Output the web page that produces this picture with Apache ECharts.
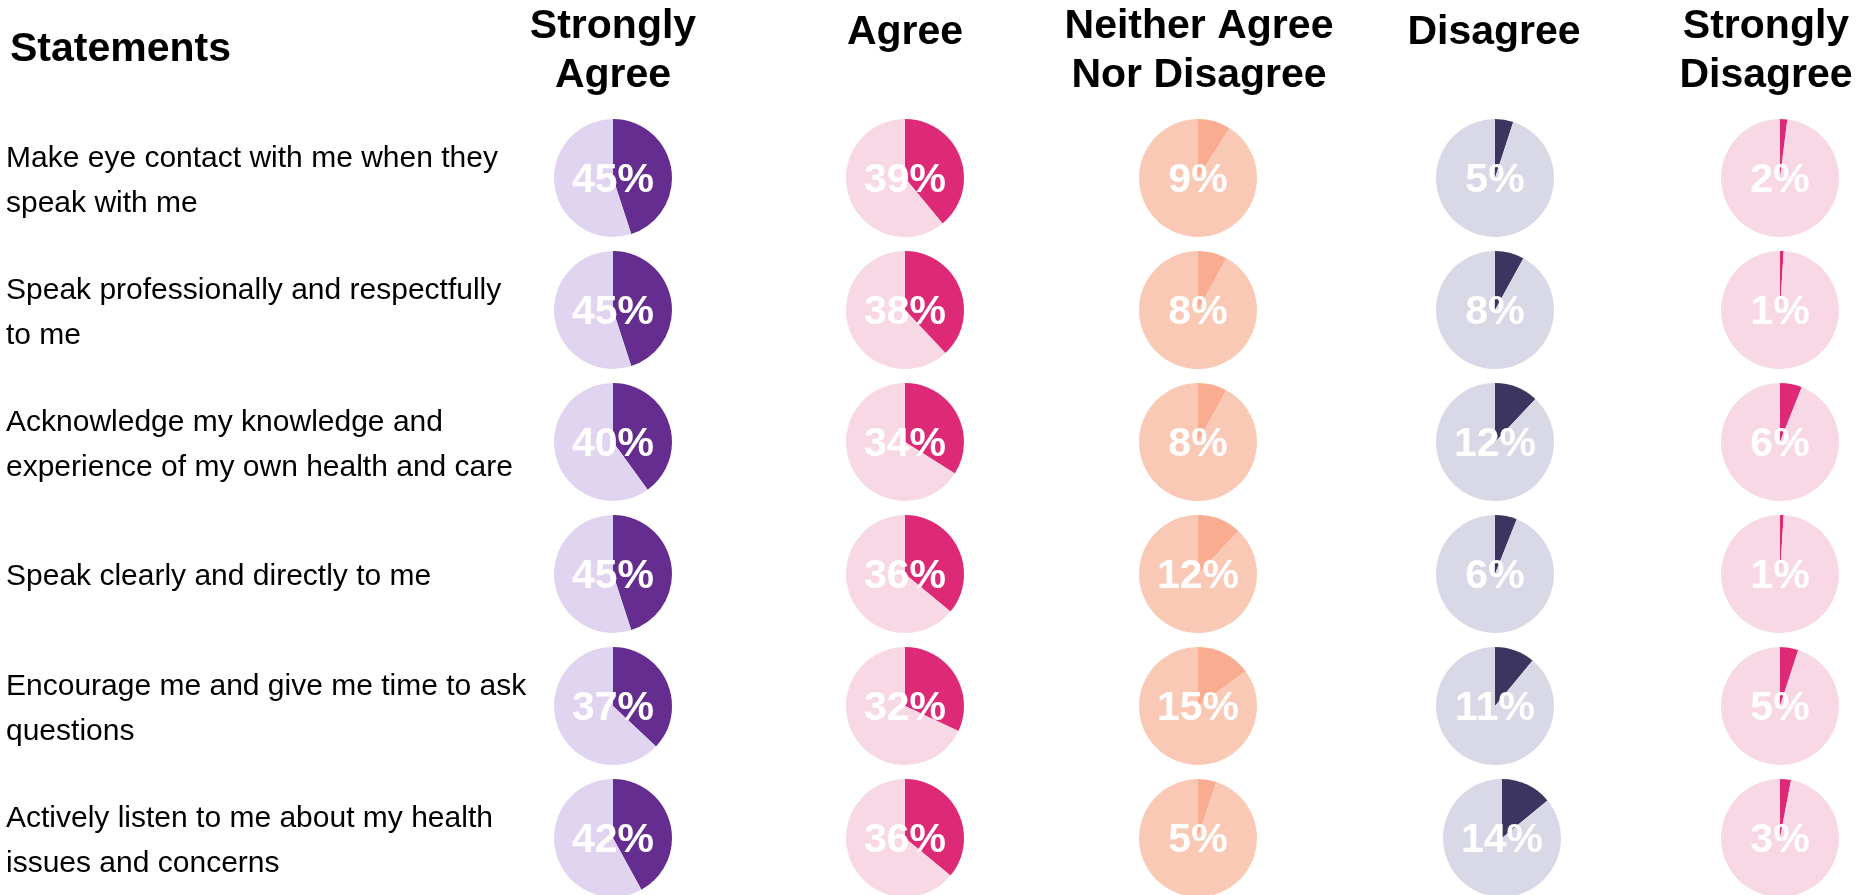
<!DOCTYPE html>
<html>
<head>
<meta charset="utf-8">
<title>Statements survey</title>
<script src="https://cdn.jsdelivr.net/npm/echarts@6/dist/echarts.min.js"></script>
<style>
  html, body { margin: 0; padding: 0; background: #ffffff; }
  #chart { width: 1856px; height: 895px; }
</style>
</head>
<body>
<div id="chart"></div>
<script>
// ---- data ----
const statements = [
  'Make eye contact with me when they\nspeak with me',
  'Speak professionally and respectfully\nto me',
  'Acknowledge my knowledge and\nexperience of my own health and care',
  'Speak clearly and directly to me',
  'Encourage me and give me time to ask\nquestions',
  'Actively listen to me about my health\nissues and concerns'
];
const responseLevels = [
  'Strongly\nAgree',
  'Agree',
  'Neither Agree\nNor Disagree',
  'Disagree',
  'Strongly\nDisagree'
];
const stronglyAgree    = [45, 45, 40, 45, 37, 42];
const agree            = [39, 38, 34, 36, 32, 36];
const neitherAgree     = [9, 8, 8, 12, 15, 5];
const disagree         = [5, 8, 12, 6, 11, 14];
const stronglyDisagree = [2, 1, 6, 1, 5, 3];

// ---- layout & style ----
const levelValues = [stronglyAgree, agree, neitherAgree, disagree, stronglyDisagree];
const palette = [
  { main: '#652D90', rest: '#E1D4F1' },
  { main: '#DE2A76', rest: '#F9D8E5' },
  { main: '#F9AC8F', rest: '#FAC9B6' },
  { main: '#3B355F', rest: '#D9D8E7' },
  { main: '#DE2A76', rest: '#F9D8E5' }
];
const colX = [613, 905, 1198, 1495, 1780];
const headerX = [613, 905, 1199, 1494, 1766];
// the last Disagree pie sits a little to the right of its column
const pieNudgeX = { '3,5': 7 };
const rowY0 = 178, rowStep = 132;
const pieRadius = 59;
const FONT = '"Liberation Sans", Arial, Helvetica, sans-serif';

const graphics = [];
graphics.push({
  type: 'text', x: 10, y: 50, silent: true,
  style: {
    text: 'Statements', fontFamily: FONT, fontSize: 41, fontWeight: 'bold', fill: '#000',
    align: 'left', verticalAlign: 'middle'
  }
});
responseLevels.forEach((lvl, i) => {
  const twoLines = lvl.indexOf('\n') >= 0;
  graphics.push({
    type: 'text', x: headerX[i], y: twoLines ? 51 : 33, silent: true,
    style: {
      text: lvl, fontFamily: FONT, fontSize: 41, fontWeight: 'bold', fill: '#000',
      align: 'center', verticalAlign: 'middle', lineHeight: 49
    }
  });
});
statements.forEach((s, r) => {
  graphics.push({
    type: 'text', x: 6, y: rowY0 + rowStep * r + 3, silent: true,
    style: {
      text: s, fontFamily: FONT, fontSize: 30, fill: '#000',
      align: 'left', verticalAlign: 'middle', lineHeight: 45
    }
  });
});

const series = [];
levelValues.forEach((vals, c) => {
  vals.forEach((v, r) => {
    series.push({
      type: 'pie',
      silent: true,
      animation: false,
      center: [colX[c] + (pieNudgeX[c + ',' + r] || 0), rowY0 + rowStep * r],
      radius: pieRadius,
      startAngle: 90,
      clockwise: true,
      avoidLabelOverlap: false,
      emphasis: { disabled: true },
      labelLine: { show: false },
      label: {
        show: true, position: 'center', formatter: '{c}%', offset: [0, 3],
        color: '#ffffff', fontFamily: FONT, fontSize: 41, fontWeight: 'bold'
      },
      data: [
        { value: v, itemStyle: { color: palette[c].main } },
        { value: 100 - v, itemStyle: { color: palette[c].rest }, label: { show: false } }
      ]
    });
  });
});

const chart = echarts.init(document.getElementById('chart'), null, { renderer: 'canvas' });
chart.setOption({
  backgroundColor: '#ffffff',
  animation: false,
  graphic: graphics,
  series: series
});
</script>
</body>
</html>
